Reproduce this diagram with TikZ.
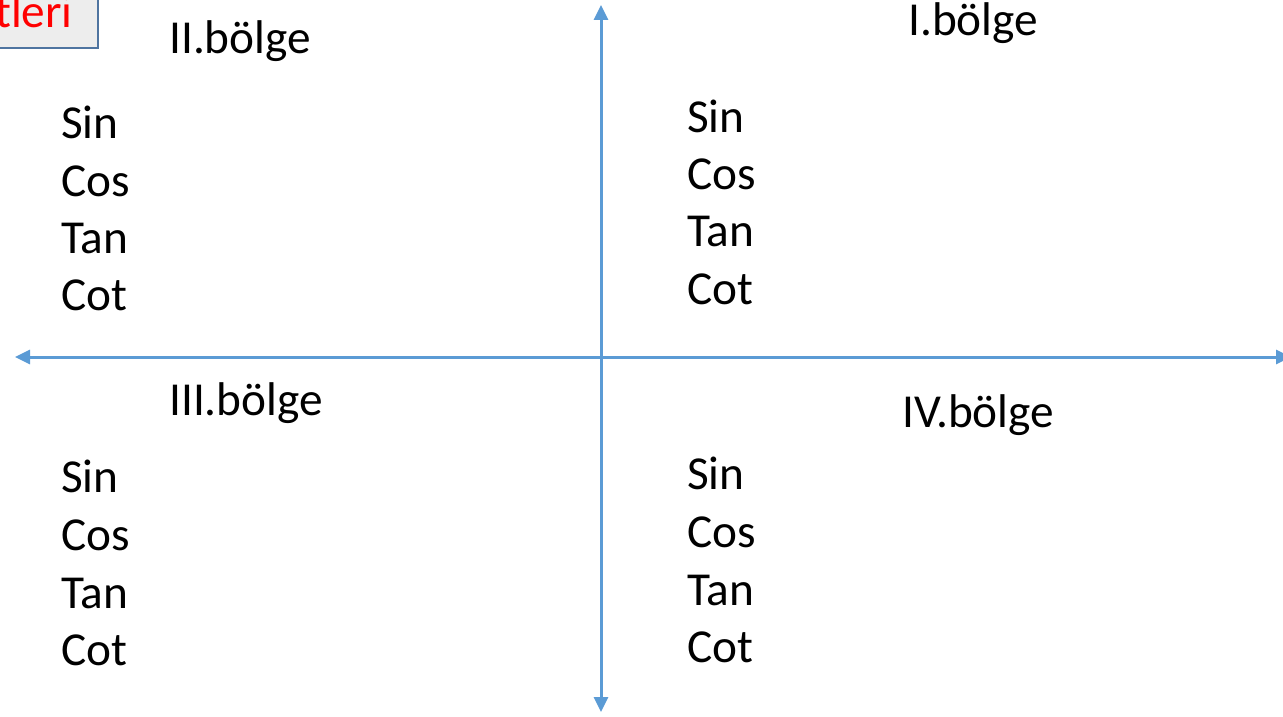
\documentclass[tikz,border=0pt]{standalone}
\usepackage{fontspec}
\setmainfont{Carlito}
\usetikzlibrary{arrows.meta}
\definecolor{axisblue}{HTML}{5B9BD5}
\definecolor{boxfill}{HTML}{EDEDED}
\definecolor{boxline}{HTML}{4F74A0}
\tikzset{
  lbl/.style={anchor=base west, inner sep=0pt, font=\fontsize{47.3}{56}\selectfont},
  axis/.style={draw=axisblue, line width=3pt, -{Triangle[length=15pt,width=14pt]}},
}
\begin{document}
\begin{tikzpicture}[x=1pt,y=-1pt]
\useasboundingbox (0,0) rectangle (1283,717);
\clip (0,0) rectangle (1283,717);
% title box (clipped)
\node[draw=boxline, line width=2pt, fill=boxfill, minimum width=110pt, minimum height=56pt, anchor=south east, inner sep=0pt] (box) at (99,49) {};
\node[anchor=base east, inner sep=0pt, text=red, font=\fontsize{47.3}{56}\selectfont] (title) at (73,28) {tleri};
% axes
\coordinate (O) at (601,357);
\coordinate (top) at (601,5);
\coordinate (bot) at (601,712);
\coordinate (left) at (15,357);
\coordinate (right) at (1291,357);
\draw[axis] (O) -- (top);
\draw[axis] (O) -- (bot);
\draw[axis] (O) -- (left);
\draw[axis] (O) -- (right);
% region labels
\node[lbl] (r1) at (908,36) {I.bölge};
\node[lbl] (r2) at (169,54) {II.bölge};
\node[lbl] (r3) at (169,415) {III.bölge};
\node[lbl] (r4) at (902,427) {IV.bölge};
% II region
\node[lbl] (s2) at (61,139) {Sin};
\node[lbl] (c2) at (61,196) {Cos};
\node[lbl] (t2) at (61,253) {Tan};
\node[lbl] (k2) at (61,310) {Cot};
% I region
\node[lbl] (s1) at (687,132) {Sin};
\node[lbl] (c1) at (687,189) {Cos};
\node[lbl] (t1) at (687,246) {Tan};
\node[lbl] (k1) at (687,304) {Cot};
% III region
\node[lbl] (s3) at (61,492) {Sin};
\node[lbl] (c3) at (61,550) {Cos};
\node[lbl] (t3) at (61,608) {Tan};
\node[lbl] (k3) at (61,665) {Cot};
% IV region
\node[lbl] (s4) at (687,489) {Sin};
\node[lbl] (c4) at (687,547) {Cos};
\node[lbl] (t4) at (687,605) {Tan};
\node[lbl] (k4) at (687,662) {Cot};
\end{tikzpicture}
\end{document}
